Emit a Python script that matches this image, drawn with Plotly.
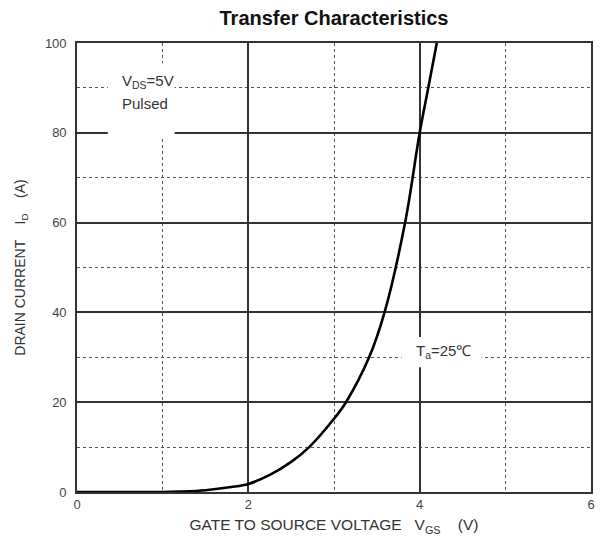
import plotly.graph_objects as go

vgs = [0.0, 1.0, 1.2, 1.5, 1.8, 2.0, 2.25, 2.5, 2.71, 3.0, 3.14, 3.41, 3.59, 3.83, 4.0, 4.1, 4.2]
i_d = [0.0, 0.0, 0.1, 0.4, 1.1, 1.8, 3.8, 6.7, 10.0, 16.3, 20.0, 30.0, 40.0, 60.0, 80.0, 90.0, 100.0]

x_ticks = [0, 2, 4, 6]
y_ticks = [0, 20, 40, 60, 80, 100]

FONT = "Liberation Sans, Arial, sans-serif"

fig = go.Figure()
fig.add_trace(go.Scatter(x=vgs, y=i_d, mode="lines",
                         line=dict(color="black", width=2.6, shape="spline", smoothing=1.0),
                         hoverinfo="skip", showlegend=False))

axis_common = dict(showline=True, mirror=True, linecolor="#333", linewidth=1.6,
                   showgrid=True, gridcolor="#333", gridwidth=1.5, zeroline=False,
                   ticks="", tickfont=dict(family=FONT, size=13, color="#444"))

fig.update_xaxes(range=[0, 6], tickvals=x_ticks, ticktext=[str(t) for t in x_ticks],
                 minor=dict(dtick=1, showgrid=True, gridcolor="#555", griddash="dot", gridwidth=1.4),
                 title=dict(text="GATE TO SOURCE VOLTAGE   V<sub>GS</sub>    (V)",
                            font=dict(family=FONT, size=15.5, color="#333"), standoff=8),
                 **axis_common)
fig.update_yaxes(range=[0, 100], tickvals=y_ticks, ticktext=[str(t) for t in y_ticks],
                 minor=dict(dtick=10, showgrid=True, gridcolor="#555", griddash="dot", gridwidth=1.4),
                 title=dict(text="DRAIN CURRENT    I<sub>D</sub>    (A)",
                            font=dict(family=FONT, size=14, color="#333"), standoff=16),
                 ticklabelstandoff=6,
                 **axis_common)

# white label backgrounds that interrupt the grid
fig.add_shape(type="rect", xref="x", yref="y", x0=0.36, x1=1.14, y0=79.0, y1=95.5,
              fillcolor="white", line=dict(width=0), layer="between")
fig.add_shape(type="rect", xref="x", yref="y", x0=3.79, x1=4.72, y0=27.8, y1=34.5,
              fillcolor="white", line=dict(width=0), layer="between")

fig.add_annotation(x=0.5, y=91.5, xref="x", yref="y", xanchor="left", yanchor="middle",
                   text="V<sub>DS</sub>=5V", showarrow=False, align="left",
                   font=dict(family=FONT, size=15, color="#333"))
fig.add_annotation(x=0.5, y=86.5, xref="x", yref="y", xanchor="left", yanchor="middle",
                   text="Pulsed", showarrow=False, align="left",
                   font=dict(family=FONT, size=15, color="#333"))
fig.add_annotation(x=3.93, y=31.2, xref="x", yref="y", xanchor="left", yanchor="middle",
                   text="T<sub>a</sub>=25℃", showarrow=False, align="left",
                   font=dict(family=FONT, size=15, color="#333"))

fig.update_layout(
    width=607, height=549,
    margin=dict(l=77, r=12, t=43, b=57),
    paper_bgcolor="white", plot_bgcolor="white",
    title=dict(text="<b>Transfer Characteristics</b>", x=0.5, xanchor="center",
               xref="paper", y=1 - 18 / 549, yanchor="middle",
               font=dict(family=FONT, size=20, color="#111")),
    showlegend=False,
)

fig.write_html("out.html")
